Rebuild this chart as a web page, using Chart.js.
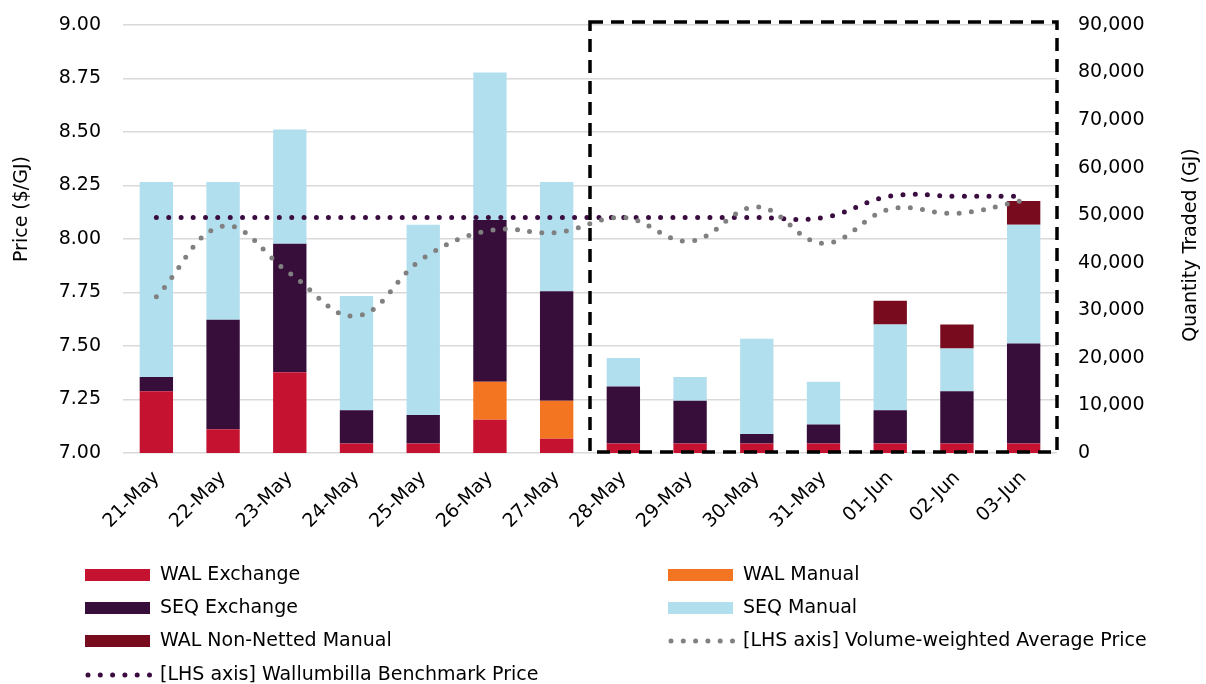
<!DOCTYPE html>
<html>
<head>
<meta charset="utf-8">
<script src="https://cdn.jsdelivr.net/npm/chart.js@4.4.1/dist/chart.umd.min.js"></script>
<style>
  html, body { margin: 0; padding: 0; background: #fff; }
  #wrap { width: 1206px; height: 684px; }
</style>
</head>
<body>
<div id="wrap"><canvas id="chart" width="1206" height="684"></canvas></div>
<script>
// Catégories (jours)
const days = ['21-May', '22-May', '23-May', '24-May', '25-May', '26-May', '27-May',
  '28-May', '29-May', '30-May', '31-May', '01-Jun', '02-Jun', '03-Jun'];

// Volumes (GJ) - axe de droite
const walExchange   = [13000, 5000, 17000, 2000, 2000, 7000, 3000, 2000, 2000, 2000, 2000, 2000, 2000, 2000];
const walManual     = [0, 0, 0, 0, 0, 8000, 8000, 0, 0, 0, 0, 0, 0, 0];
const seqExchange   = [3000, 23000, 27000, 7000, 6000, 34000, 23000, 12000, 9000, 2000, 4000, 7000, 11000, 21000];
const seqManual     = [41000, 29000, 24000, 24000, 40000, 31000, 23000, 6000, 5000, 20000, 9000, 18000, 9000, 25000];
const walNonNetted  = [0, 0, 0, 0, 0, 0, 0, 0, 0, 0, 0, 5000, 5000, 5000];

// Prix ($/GJ) - axe de gauche
const vwap      = [7.73, 8.06, 7.84, 7.64, 7.91, 8.04, 8.03, 8.10, 7.99, 8.15, 7.98, 8.14, 8.12, 8.18];
const benchmark = [8.10, 8.10, 8.10, 8.10, 8.10, 8.10, 8.10, 8.10, 8.10, 8.10, 8.10, 8.20, 8.20, 8.20];

// Zone encadrée (indices de catégories)
const boxFrom = 6.5;
const boxTo = 13.5;

const FONT = "'DejaVu Sans', sans-serif";

// Titres des axes, cadre pointillé et légende dessinés à la main
const extras = {
  id: 'extras',
  afterDatasetsDraw(chart) {
    const ctx = chart.ctx;
    const x = chart.scales.x;
    const yl = chart.scales.yPrice;

    // cadre pointillé noir
    const step = x.getPixelForValue(1) - x.getPixelForValue(0);
    const left = x.getPixelForValue(0) + step * boxFrom;
    const right = x.getPixelForValue(0) + step * boxTo;
    const top = yl.getPixelForValue(9.0) - 3;
    const bottom = yl.getPixelForValue(7.0) - 1;
    ctx.save();
    ctx.strokeStyle = '#000';
    ctx.lineWidth = 3.5;
    ctx.setLineDash([13, 8]);
    ctx.strokeRect(left, top, right - left, bottom - top);
    ctx.restore();
  },
  afterDraw(chart) {
    const ctx = chart.ctx;
    ctx.save();
    ctx.fillStyle = '#000';
    ctx.font = '19px ' + FONT;
    ctx.textAlign = 'center';
    ctx.textBaseline = 'middle';
    // titre gauche
    ctx.save();
    ctx.translate(22, 209);
    ctx.rotate(-Math.PI / 2);
    ctx.fillText('Price ($/GJ)', 0, 0);
    ctx.restore();
    // titre droit
    ctx.save();
    ctx.translate(1191, 245);
    ctx.rotate(-Math.PI / 2);
    ctx.fillText('Quantity Traded (GJ)', 0, 0);
    ctx.restore();

    // légende sur deux colonnes
    const cols = [85, 668];
    const rows = [575, 608, 641, 675];
    ctx.textAlign = 'left';
    chart.data.datasets.forEach((ds, i) => {
      const cx = cols[i % 2];
      const cy = rows[Math.floor(i / 2)];
      if (ds.type === 'line') {
        ctx.save();
        ctx.strokeStyle = ds.borderColor;
        ctx.lineWidth = ds.borderWidth;
        ctx.lineCap = 'round';
        ctx.setLineDash(ds.borderDash);
        ctx.beginPath();
        ctx.moveTo(cx + 3, cy);
        ctx.lineTo(cx + 66, cy);
        ctx.stroke();
        ctx.restore();
      } else {
        ctx.fillStyle = ds.backgroundColor;
        ctx.fillRect(cx, cy - 6, 65, 12);
      }
      ctx.fillStyle = '#000';
      ctx.fillText(ds.label, cx + 75, cy);
    });
    ctx.restore();
  }
};

function bar(label, data, color) {
  return {
    type: 'bar', label, data, backgroundColor: color,
    yAxisID: 'yQty', stack: 'vol', order: 2,
    barPercentage: 0.5, categoryPercentage: 1.0
  };
}

function dotted(label, data, color) {
  return {
    type: 'line', label, data, borderColor: color, backgroundColor: color,
    yAxisID: 'yPrice', order: 1, borderWidth: 5, borderDash: [0, 12.3],
    borderCapStyle: 'round', pointRadius: 0, tension: 0.4, fill: false
  };
}

// Pas de marge automatique des échelles
function noPad(s) {
  s.paddingTop = 0; s.paddingBottom = 0; s.paddingLeft = 0; s.paddingRight = 0;
}

new Chart(document.getElementById('chart'), {
  data: {
    labels: days,
    datasets: [
      bar('WAL Exchange', walExchange, '#C41230'),
      bar('WAL Manual', walManual, '#F47521'),
      bar('SEQ Exchange', seqExchange, '#370E3A'),
      bar('SEQ Manual', seqManual, '#B2DFEE'),
      bar('WAL Non-Netted Manual', walNonNetted, '#780C1E'),
      dotted('[LHS axis] Volume-weighted Average Price', vwap, '#808080'),
      dotted('[LHS axis] Wallumbilla Benchmark Price', benchmark, '#3A0C40')
    ]
  },
  options: {
    responsive: false,
    animation: false,
    layout: { padding: { top: 25, bottom: 131, left: 0, right: 0 } },
    plugins: {
      legend: { display: false },
      tooltip: { enabled: false }
    },
    scales: {
      x: {
        stacked: true,
        grid: { display: false, drawTicks: false },
        border: { display: false },
        ticks: {
          color: '#000', font: { family: FONT, size: 19 },
          maxRotation: 45, minRotation: 45, padding: 14
        },
        afterFit(s) { s.height = 100; noPad(s); }
      },
      yPrice: {
        position: 'left',
        min: 7, max: 9,
        grid: { color: '#d9d9d9', lineWidth: 1.5, drawTicks: false },
        border: { display: false },
        ticks: {
          stepSize: 0.25, color: '#000', padding: 22,
          font: { family: FONT, size: 19 },
          callback: v => Number(v).toFixed(2)
        },
        afterFit(s) { s.width = 123; noPad(s); }
      },
      yQty: {
        position: 'right',
        stacked: true,
        min: 0, max: 90000,
        grid: { display: false, drawTicks: false },
        border: { display: false },
        ticks: {
          stepSize: 10000, color: '#000', padding: 21,
          font: { family: FONT, size: 19 },
          callback: v => Number(v).toLocaleString('en-US')
        },
        afterFit(s) { s.width = 149; noPad(s); }
      }
    }
  },
  plugins: [extras]
});
</script>
</body>
</html>
